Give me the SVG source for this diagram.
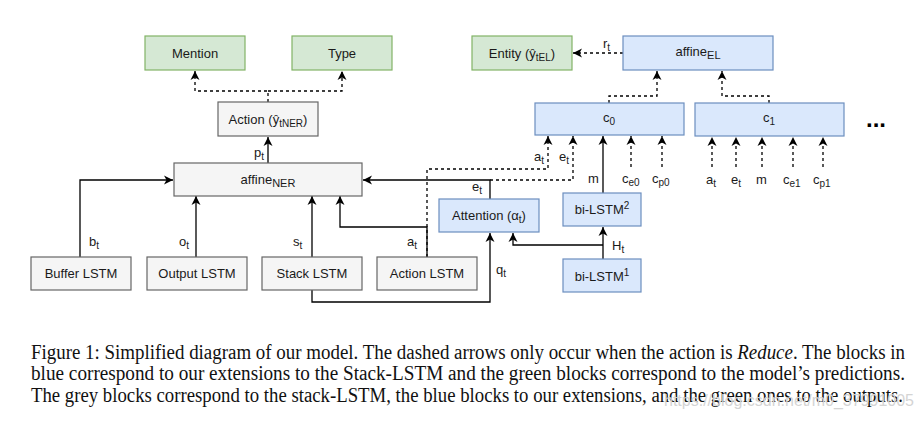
<svg xmlns="http://www.w3.org/2000/svg" width="920" height="425" viewBox="0 0 920 425">
<style>
.box{stroke-width:1.2}
.grey{fill:#f5f5f5;stroke:#666666}
.blue{fill:#dae8fc;stroke:#6c8ebf}
.green{fill:#d5e8d4;stroke:#82b366}
.lbl{font-family:"Liberation Sans",Arial,sans-serif;font-size:13px;fill:#1a1a1a;text-anchor:middle}
.ed{font-family:"Liberation Sans",Arial,sans-serif;font-size:13px;fill:#1a1a1a}
.sub{font-size:10px}
.c{fill:none;stroke:#000;stroke-width:1.3}
.d{stroke-dasharray:3 3}
.a{marker-end:url(#arr)}
.cap{font-family:"Liberation Serif","Times New Roman",serif;font-size:20px;fill:#111}
</style>
<defs>
<marker id="arr" markerUnits="userSpaceOnUse" markerWidth="12" markerHeight="12" refX="9" refY="5" orient="auto">
<path d="M0,0.5 L9,5 L0,9.5 L2.5,5 z" fill="#000"/>
</marker>
</defs>
<rect width="920" height="425" fill="#fff"/>

<g id="connectors">
<path class="c a" d="M80,257 V180 H173"/>
<path class="c a" d="M196,257 V196"/>
<path class="c a" d="M312,257 V196"/>
<path class="c a" d="M427,257 V227 H340 V196"/>
<path class="c a" d="M268,163 V137"/>
<path class="c a" d="M490,199 V180 H363"/>
<path class="c a" d="M312,290 V302 H490 V233"/>
<path class="c a" d="M603,259 V227"/>
<path class="c a" d="M603,245 H513 V233"/>
<path class="c a" d="M603,193 V136"/>
<path class="c d a" d="M268,102 V91 H195 V71"/>
<path class="c d a" d="M268,91 H342 V71"/>
<path class="c d a" d="M427,257 V169 H548 V136"/>
<path class="c d a" d="M490,180 H573 V136"/>
<path class="c d a" d="M631,167 V136"/>
<path class="c d a" d="M662,167 V136"/>
<path class="c d a" d="M712,167 V137"/>
<path class="c d a" d="M736,167 V137"/>
<path class="c d a" d="M762,167 V137"/>
<path class="c d a" d="M793,167 V137"/>
<path class="c d a" d="M823,167 V137"/>
<path class="c d a" d="M609,103 V96 H657 V71"/>
<path class="c d a" d="M769,103 V96 H722 V71"/>
<path class="c d a" d="M623,53 H573"/>
<text class="ed" x="254" y="157">p<tspan class="sub" dy="3">t</tspan></text>
<text class="ed" x="89" y="246">b<tspan class="sub" dy="3">t</tspan></text>
<text class="ed" x="179" y="246">o<tspan class="sub" dy="3">t</tspan></text>
<text class="ed" x="293" y="246">s<tspan class="sub" dy="3">t</tspan></text>
<text class="ed" x="407" y="246">a<tspan class="sub" dy="3">t</tspan></text>
<text class="ed" x="496" y="274">q<tspan class="sub" dy="3">t</tspan></text>
<text class="ed" x="472" y="191">e<tspan class="sub" dy="3">t</tspan></text>
<text class="ed" x="534" y="161">a<tspan class="sub" dy="3">t</tspan></text>
<text class="ed" x="559" y="161">e<tspan class="sub" dy="3">t</tspan></text>
<text class="ed" x="588" y="183">m</text>
<text class="ed" x="622" y="183">c<tspan class="sub" dy="3">e0</tspan></text>
<text class="ed" x="652" y="183">c<tspan class="sub" dy="3">p0</tspan></text>
<text class="ed" x="706" y="184">a<tspan class="sub" dy="3">t</tspan></text>
<text class="ed" x="731" y="184">e<tspan class="sub" dy="3">t</tspan></text>
<text class="ed" x="756" y="184">m</text>
<text class="ed" x="783" y="184">c<tspan class="sub" dy="3">e1</tspan></text>
<text class="ed" x="813" y="184">c<tspan class="sub" dy="3">p1</tspan></text>
<text class="ed" x="612" y="250">H<tspan class="sub" dy="3">t</tspan></text>
<text class="ed" x="603" y="48">r<tspan class="sub" dy="3">t</tspan></text>
</g>

<g id="mention"><rect class="box green" x="145" y="36" width="100" height="34"/><text class="lbl" x="195" y="57.5">Mention</text></g>
<g id="type"><rect class="box green" x="292" y="36" width="100" height="34"/><text class="lbl" x="342" y="57.5">Type</text></g>
<g id="action"><rect class="box grey" x="218" y="102" width="100" height="34"/><text class="lbl" x="268" y="123.5">Action (ŷ<tspan class="sub" dy="3">tNER</tspan><tspan dy="-3">)</tspan></text></g>
<g id="affine-ner"><rect class="box grey" x="174" y="163" width="188" height="33"/><text class="lbl" x="268" y="183.5">affine<tspan class="sub" dy="3" style="font-size:11px">NER</tspan></text></g>
<g id="buffer-lstm"><rect class="box grey" x="31" y="257" width="100" height="33"/><text class="lbl" x="81" y="278">Buffer LSTM</text></g>
<g id="output-lstm"><rect class="box grey" x="147" y="257" width="100" height="33"/><text class="lbl" x="197" y="278">Output LSTM</text></g>
<g id="stack-lstm"><rect class="box grey" x="262" y="257" width="100" height="33"/><text class="lbl" x="312" y="278">Stack LSTM</text></g>
<g id="action-lstm"><rect class="box grey" x="377" y="257" width="100" height="33"/><text class="lbl" x="427" y="278">Action LSTM</text></g>
<g id="attention"><rect class="box blue" x="439" y="199" width="100" height="33"/><text class="lbl" x="489" y="220">Attention (α<tspan class="sub" dy="3">t</tspan><tspan dy="-3">)</tspan></text></g>
<g id="bilstm2"><rect class="box blue" x="563" y="193" width="78" height="33"/><text class="lbl" x="602" y="214">bi-LSTM<tspan class="sub" dy="-5">2</tspan></text></g>
<g id="bilstm1"><rect class="box blue" x="563" y="259" width="78" height="33"/><text class="lbl" x="602" y="281">bi-LSTM<tspan class="sub" dy="-5">1</tspan></text></g>
<g id="c0"><rect class="box blue" x="535" y="103" width="149" height="32"/><text class="lbl" x="609" y="122">c<tspan class="sub" dy="3">0</tspan></text></g>
<g id="c1"><rect class="box blue" x="695" y="103" width="149" height="33"/><text class="lbl" x="769" y="122">c<tspan class="sub" dy="3">1</tspan></text></g>
<g id="affine-el"><rect class="box blue" x="623" y="36" width="150" height="34"/><text class="lbl" x="698" y="56">affine<tspan class="sub" dy="3" style="font-size:11px">EL</tspan></text></g>
<g id="entity"><rect class="box green" x="472" y="36" width="100" height="34"/><text class="lbl" x="522" y="57.5">Entity (ŷ<tspan class="sub" dy="3">tEL</tspan><tspan dy="-3">)</tspan></text></g>
<g id="ellipsis"><text x="866" y="127" style="font-family:'Liberation Sans',Arial,sans-serif;font-size:24px;font-weight:bold;fill:#000">...</text></g>

<g id="caption">
<text class="cap" x="31" y="359" textLength="874" lengthAdjust="spacingAndGlyphs">Figure 1: Simplified diagram of our model. The dashed arrows only occur when the action is <tspan font-style="italic">Reduce</tspan>. The blocks in</text>
<text class="cap" x="31" y="380" textLength="874" lengthAdjust="spacingAndGlyphs">blue correspond to our extensions to the Stack-LSTM and the green blocks correspond to the model’s predictions.</text>
<text class="cap" x="31" y="402" textLength="872" lengthAdjust="spacingAndGlyphs">The grey blocks correspond to the stack-LSTM, the blue blocks to our extensions, and the green ones to the outputs.</text>
<text x="664" y="406" textLength="250" lengthAdjust="spacingAndGlyphs" style="font-family:'Liberation Sans',Arial,sans-serif;font-size:16px;fill:#d4d4d4">https://blog.csdn.net/m0_37991005</text>
</g>
</svg>
